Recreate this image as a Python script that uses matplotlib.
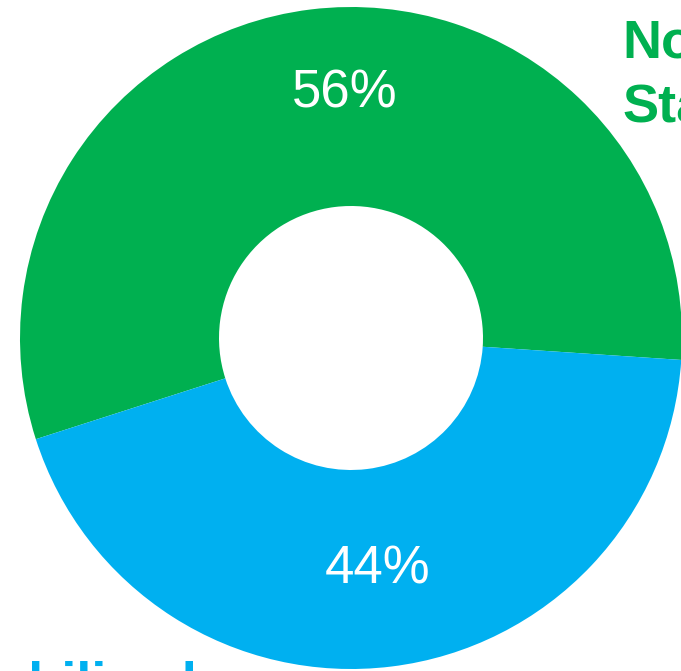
import numpy as np
import matplotlib.pyplot as plt

# donut data
categories = ['Not Stabilized', 'Stabilized']
values = [56, 44]
colors = ['#00B050', '#00B0F0']
pct_labels = ['56%', '44%']

W, H = 681, 671
fig = plt.figure(figsize=(W / 100, H / 100), dpi=100)
ax = fig.add_axes([0, 0, 1, 1])

cx, cy = 351, H - 338
r_out, r_in = 331, 132

ax.pie(values, colors=colors, startangle=-3.8, counterclock=True,
       center=(cx, cy), radius=r_out,
       wedgeprops=dict(width=r_out - r_in, linewidth=0))

ax.set_xlim(0, W)
ax.set_ylim(0, H)
ax.set_aspect('equal')
ax.set_axis_off()

# percentage labels in the ring
ax.text(345, H - 107, pct_labels[0], color='white', fontsize=38,
        family='Liberation Sans', ha='center', va='baseline')
ax.text(378, H - 583, pct_labels[1], color='white', fontsize=38,
        family='Liberation Sans', ha='center', va='baseline')

# category labels (partly off the canvas like the original)
not_line, stab_line = categories[0].split(' ')
ax.text(622, H - 58, not_line, color=colors[0], fontsize=39,
        fontweight='bold', family='Liberation Sans', ha='left', va='baseline',
        clip_on=False)
ax.text(622, H - 122, stab_line, color=colors[0], fontsize=39,
        fontweight='bold', family='Liberation Sans', ha='left', va='baseline',
        clip_on=False)
ax.text(197, H - 699, categories[1], color=colors[1], fontsize=39,
        fontweight='bold', family='Liberation Sans', ha='right', va='baseline',
        clip_on=False)

fig.savefig('out.png', dpi=100)
